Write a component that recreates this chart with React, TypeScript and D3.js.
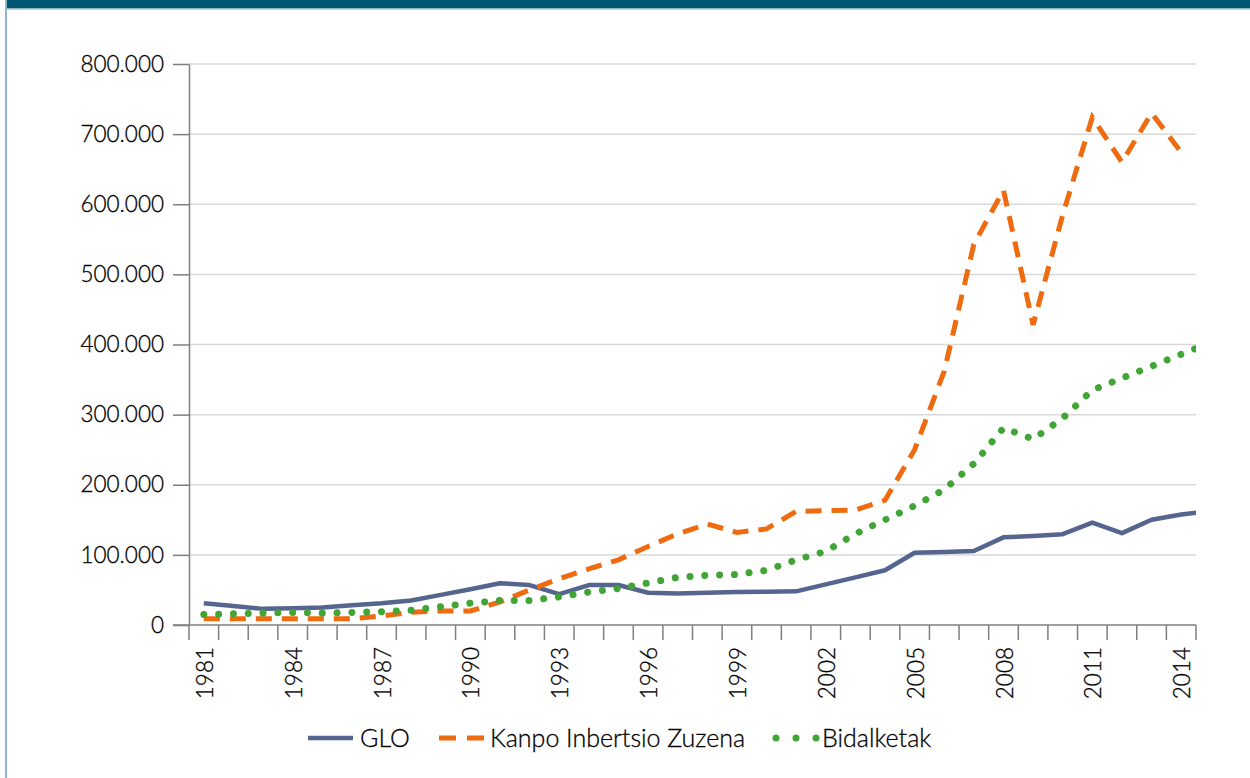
import React, { useEffect, useRef } from 'react';
import * as d3 from 'd3';

const years = [
  '1981', '1982', '1983', '1984', '1985', '1986', '1987', '1988', '1989', '1990',
  '1991', '1992', '1993', '1994', '1995', '1996', '1997', '1998', '1999', '2000',
  '2001', '2002', '2003', '2004', '2005', '2006', '2007', '2008', '2009', '2010',
  '2011', '2012', '2013', '2014',
];

// last value of glo and bidalketak runs past the plot edge and is clipped
const glo = [
  31000, 27000, 23000, 24000, 25000, 28000, 31000, 35000, 43000, 51000,
  59500, 57000, 44000, 57000, 57000, 46000, 45000, 46000, 47000, 47500,
  48000, 58000, 68000, 78000, 103000, 104000, 105500, 125000, 127000, 129500,
  146000, 131000, 150000, 157500, 162500,
];

const kanpoInbertsioa = [
  9000, 9000, 9000, 9000, 9000, 9000, 13000, 18000, 20000, 20000,
  33000, 50000, 66000, 80000, 93000, 112000, 130000, 144000, 132000, 137000,
  162000, 163000, 164000, 178000, 250000, 362000, 543000, 620000, 428000, 585000,
  724000, 660000, 730000, 674000,
];

const bidalketak = [
  15000, 16000, 17000, 18000, 17000, 18000, 19000, 21000, 26000, 31000,
  35000, 35000, 40000, 47000, 52000, 60000, 68000, 71000, 72000, 78000,
  93000, 105000, 130000, 150000, 170000, 193000, 230000, 281000, 265000, 295000,
  335000, 352000, 369000, 386000, 403000,
];

const yTicks = [0, 100000, 200000, 300000, 400000, 500000, 600000, 700000, 800000];
const labelYears = ['1981', '1984', '1987', '1990', '1993', '1996', '1999', '2002', '2005', '2008', '2011', '2014'];

const FONT = 'Lato, "Open Sans", sans-serif';

const App = () => {
  const ref = useRef<SVGSVGElement>(null);

  useEffect(() => {
    const svg = d3.select(ref.current);
    svg.selectAll('*').remove();

    const W = 1250;
    const H = 778;
    const left = 189;
    const right = 1196;
    const top = 64;
    const bottom = 625;

    // frame
    svg.append('rect').attr('x', 0).attr('y', 0).attr('width', W).attr('height', H).attr('fill', '#fff');
    svg.append('rect').attr('x', 6).attr('y', 0).attr('width', W - 6).attr('height', 8.5).attr('fill', '#005670');
    svg.append('rect').attr('x', 6).attr('y', 8.5).attr('width', W - 6).attr('height', 1.2).attr('fill', '#9cc4d2');
    svg.append('rect').attr('x', 5).attr('y', 0).attr('width', 2).attr('height', H).attr('fill', '#8fb7ca');

    const x = d3.scaleBand<string>().domain(years).range([left, right]).padding(0);
    const y = d3.scaleLinear().domain([0, 800000]).range([bottom, top]);
    const cx = (i: number) => (x(years[0]) as number) + x.bandwidth() / 2 + i * x.step();

    const fmt = d3.formatLocale({ decimal: ',', thousands: '.', grouping: [3], currency: ['', ''] }).format(',');

    // gridlines
    svg.append('g')
      .selectAll('line')
      .data(yTicks.filter(d => d > 0))
      .enter()
      .append('line')
      .attr('x1', left)
      .attr('x2', right)
      .attr('y1', d => y(d))
      .attr('y2', d => y(d))
      .attr('stroke', '#d9d9d9')
      .attr('stroke-width', 1.5);

    // y axis
    const yAxis = svg.append('g')
      .attr('transform', `translate(${left},0)`)
      .call(d3.axisLeft(y).tickValues(yTicks).tickSize(16).tickSizeOuter(0).tickPadding(9).tickFormat(d => fmt(d as number)));
    yAxis.select('.domain').attr('stroke', '#7f7f7f').attr('stroke-width', 1.5);
    yAxis.selectAll('.tick line').attr('stroke', '#7f7f7f').attr('stroke-width', 1.5);
    yAxis.selectAll('.tick text')
      .attr('font-family', FONT)
      .attr('font-weight', 300)
      .attr('font-size', 22.5)
      .attr('fill', '#000')
      .attr('stroke', '#000')
      .attr('stroke-width', 0.3);

    // x axis
    const xAxis = svg.append('g');
    xAxis.append('line')
      .attr('x1', left - 16)
      .attr('x2', right)
      .attr('y1', bottom)
      .attr('y2', bottom)
      .attr('stroke', '#7f7f7f')
      .attr('stroke-width', 1.5);
    xAxis.selectAll('line.tk')
      .data([...years.map(d => x(d) as number), right])
      .enter()
      .append('line')
      .attr('class', 'tk')
      .attr('x1', d => d)
      .attr('x2', d => d)
      .attr('y1', bottom)
      .attr('y2', bottom + 15)
      .attr('stroke', '#7f7f7f')
      .attr('stroke-width', 1.5);
    xAxis.selectAll('text')
      .data(labelYears)
      .enter()
      .append('text')
      .attr('transform', d => `translate(${(x(d) as number) + x.bandwidth() / 2 + 1},${bottom + 22}) rotate(-90)`)
      .attr('text-anchor', 'end')
      .attr('dy', '0.36em')
      .attr('font-family', FONT)
      .attr('font-weight', 300)
      .attr('font-size', 22.5)
      .attr('fill', '#000')
      .attr('stroke', '#000')
      .attr('stroke-width', 0.3)
      .text(d => d);

    // lines
    svg.append('clipPath').attr('id', 'plotclip')
      .append('rect')
      .attr('x', left).attr('y', 0).attr('width', right - left).attr('height', bottom + 10);

    const line = d3.line<number>()
      .x((_, i) => cx(i))
      .y(d => y(d));

    const plot = svg.append('g').attr('clip-path', 'url(#plotclip)');

    plot.append('path')
      .datum(glo)
      .attr('fill', 'none')
      .attr('stroke', '#56658f')
      .attr('stroke-width', 4.5)
      .attr('stroke-linejoin', 'round')
      .attr('d', line);

    plot.append('path')
      .datum(kanpoInbertsioa)
      .attr('fill', 'none')
      .attr('stroke', '#ee6b0f')
      .attr('stroke-width', 5)
      .attr('stroke-dasharray', '16 10')
      .attr('stroke-linejoin', 'miter')
      .attr('d', line);

    plot.append('path')
      .datum(bidalketak)
      .attr('fill', 'none')
      .attr('stroke', '#40a535')
      .attr('stroke-width', 7)
      .attr('stroke-linecap', 'round')
      .attr('stroke-dasharray', '0.01 14.8')
      .attr('d', line);

    // legend
    const ly = 738;
    const legend = svg.append('g');
    const items = [
      { name: 'GLO', color: '#56658f', x0: 308, x1: 353, width: 4.5, dash: null as string | null, cap: 'butt', tx: 360 },
      { name: 'Kanpo Inbertsio Zuzena', color: '#ee6b0f', x0: 439, x1: 484, width: 5, dash: '17 11', cap: 'butt', tx: 490 },
      { name: 'Bidalketak', color: '#40a535', x0: 776, x1: 816, width: 7, dash: '0.01 19.99', cap: 'round', tx: 822 },
    ];
    items.forEach(it => {
      const l = legend.append('line')
        .attr('x1', it.x0)
        .attr('x2', it.x1)
        .attr('y1', ly)
        .attr('y2', ly)
        .attr('stroke', it.color)
        .attr('stroke-width', it.width)
        .attr('stroke-linecap', it.cap);
      if (it.dash) l.attr('stroke-dasharray', it.dash);
      legend.append('text')
        .attr('x', it.tx)
        .attr('y', ly)
        .attr('dy', '0.36em')
        .attr('font-family', FONT)
        .attr('font-weight', 300)
        .attr('font-size', 25)
        .attr('fill', '#000')
        .attr('stroke', '#000')
        .attr('stroke-width', 0.3)
        .text(it.name);
    });
  }, []);

  return (
    <svg
      ref={ref}
      width={1250}
      height={778}
      style={{ position: 'absolute', left: 0, top: 0, display: 'block' }}
    />
  );
};

export default App;
